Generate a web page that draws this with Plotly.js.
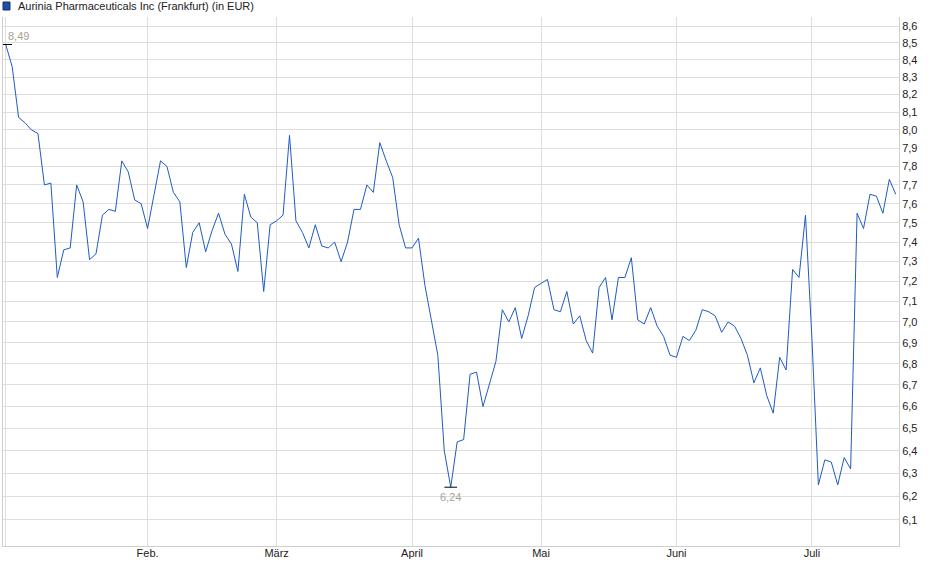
<!DOCTYPE html>
<html>
<head>
<meta charset="utf-8">
<script src="https://cdn.plot.ly/plotly-3.0.1.min.js"></script>
<style>
  html, body { margin: 0; padding: 0; background: #fff; }
  #chart { width: 940px; height: 579px; }
</style>
</head>
<body>
<div id="chart"></div>
<script>
// Aurinia Pharmaceuticals Inc, Frankfurt, closing prices in EUR (2025, trading days)
var firstDay = '2025-01-02';
var holidays = ['2025-04-18', '2025-04-21', '2025-05-01'];
var prices = [
  8.49, 8.36, 8.07, 8.04, 8.00, 7.98, 7.70, 7.71, 7.22, 7.36,
  7.37, 7.70, 7.61, 7.31, 7.34, 7.54, 7.57, 7.56, 7.83, 7.77,
  7.62, 7.60, 7.47, 7.64, 7.83, 7.80, 7.66, 7.61, 7.27, 7.45,
  7.50, 7.35, 7.46, 7.55, 7.44, 7.39, 7.25, 7.65, 7.53, 7.50,
  7.15, 7.49, 7.51, 7.54, 7.97, 7.51, 7.45, 7.37, 7.49, 7.38,
  7.37, 7.40, 7.30, 7.40, 7.57, 7.57, 7.70, 7.66, 7.93, 7.83,
  7.74, 7.49, 7.37, 7.37, 7.42, 7.18, 7.00, 6.84, 6.40, 6.24,
  6.44, 6.45, 6.75, 6.76, 6.60, 6.70, 6.81, 7.06, 7.00, 7.07,
  6.92, 7.03, 7.17, 7.19, 7.21, 7.06, 7.05, 7.15, 6.99, 7.03,
  6.91, 6.85, 7.17, 7.22, 7.01, 7.22, 7.22, 7.32, 7.01, 6.99,
  7.07, 6.98, 6.93, 6.84, 6.83, 6.93, 6.91, 6.96, 7.06, 7.05,
  7.03, 6.95, 7.00, 6.98, 6.92, 6.84, 6.71, 6.78, 6.65, 6.57,
  6.83, 6.77, 7.26, 7.22, 7.54, 6.92, 6.25, 6.36, 6.35, 6.25,
  6.37, 6.32, 7.55, 7.47, 7.65, 7.64, 7.55, 7.73, 7.65
];
var monthLabels = ['', 'Feb.', 'März', 'April', 'Mai', 'Juni', 'Juli'];
var yTicks = [6.1, 6.2, 6.3, 6.4, 6.5, 6.6, 6.7, 6.8, 6.9, 7.0, 7.1, 7.2, 7.3,
              7.4, 7.5, 7.6, 7.7, 7.8, 7.9, 8.0, 8.1, 8.2, 8.3, 8.4, 8.5, 8.6];

function tradingDays(start, n) {
  var out = [];
  var d = new Date(start + 'T00:00:00Z');
  while (out.length < n) {
    var s = d.toISOString().slice(0, 10);
    var wd = d.getUTCDay();
    if (wd != 0 && wd != 6 && holidays.indexOf(s) < 0) out.push(s);
    d.setUTCDate(d.getUTCDate() + 1);
  }
  return out;
}

var dates = tradingDays(firstDay, prices.length);

// first trading day of every month -> gridline + label
var monthStarts = [];
dates.forEach(function(s, i) {
  if (i == 0 || s.slice(5, 7) != dates[i - 1].slice(5, 7)) monthStarts.push(s);
});

var iMax = 0, iMin = 0;
prices.forEach(function(v, i) {
  if (v > prices[iMax]) iMax = i;
  if (v < prices[iMin]) iMin = i;
});

function fmt(v) { return v.toFixed(2).replace('.', ','); }

var line = {
  x: dates,
  y: prices,
  type: 'scatter',
  mode: 'lines',
  line: { color: '#1f5bc4', width: 1 },
  hoverinfo: 'skip'
};

var extremes = {
  x: [dates[iMax], dates[iMin]],
  y: [prices[iMax], prices[iMin]],
  type: 'scatter',
  mode: 'markers',
  marker: { symbol: 'line-ew', size: 9, line: { color: '#000', width: 1 } },
  hoverinfo: 'skip'
};

var labelFont = { family: 'Liberation Sans, Arial, sans-serif', size: 11, color: '#a9a196' };

var layout = {
  width: 940,
  height: 579,
  margin: { l: 3, r: 41, t: 17, b: 33 },
  paper_bgcolor: '#fff',
  plot_bgcolor: '#fff',
  separators: ',.',
  showlegend: false,
  font: { family: 'Liberation Sans, Arial, sans-serif', size: 11, color: '#222' },
  xaxis: {
    type: 'category',
    range: [-0.42, prices.length - 0.5],
    tickvals: monthStarts,
    ticktext: monthLabels,
    showgrid: true,
    gridcolor: '#dedede',
    showline: true,
    linecolor: '#cfcfcf',
    ticks: '',
    ticklabelstandoff: -3,
    zeroline: false,
    tickfont: { size: 11, color: '#222' }
  },
  yaxis: {
    type: 'log',
    side: 'right',
    range: [Math.log10(5.99), Math.log10(8.654)],
    tickvals: yTicks,
    tickformat: '.1f',
    showgrid: true,
    gridcolor: '#dedede',
    showline: true,
    mirror: true,
    linecolor: '#cfcfcf',
    ticks: '',
    zeroline: false,
    tickfont: { size: 11, color: '#222' }
  },
  shapes: [{
    type: 'rect',
    xref: 'paper', yref: 'paper',
    xsizemode: 'pixel', ysizemode: 'pixel',
    xanchor: 0, yanchor: 1,
    x0: 0, x1: 7, y0: 7, y1: 15,
    fillcolor: '#1f4fa8',
    line: { color: '#1a2f66', width: 1 }
  }],
  annotations: [{
    xref: 'paper', yref: 'paper',
    x: 0, y: 1,
    xanchor: 'left', yanchor: 'middle',
    xshift: 13, yshift: 11,
    showarrow: false,
    text: 'Aurinia Pharmaceuticals Inc (Frankfurt) (in EUR)',
    font: { family: 'Liberation Sans, Arial, sans-serif', size: 11, color: '#222' }
  }, {
    x: iMax, y: Math.log10(prices[iMax]),
    xanchor: 'left', yanchor: 'middle',
    yshift: 9,
    showarrow: false,
    text: fmt(prices[iMax]),
    font: labelFont
  }, {
    x: iMin, y: Math.log10(prices[iMin]),
    xanchor: 'center', yanchor: 'middle',
    yshift: -10,
    showarrow: false,
    text: fmt(prices[iMin]),
    font: labelFont
  }]
};

Plotly.newPlot('chart', [line, extremes], layout, { displayModeBar: false, staticPlot: true });
</script>
</body>
</html>
